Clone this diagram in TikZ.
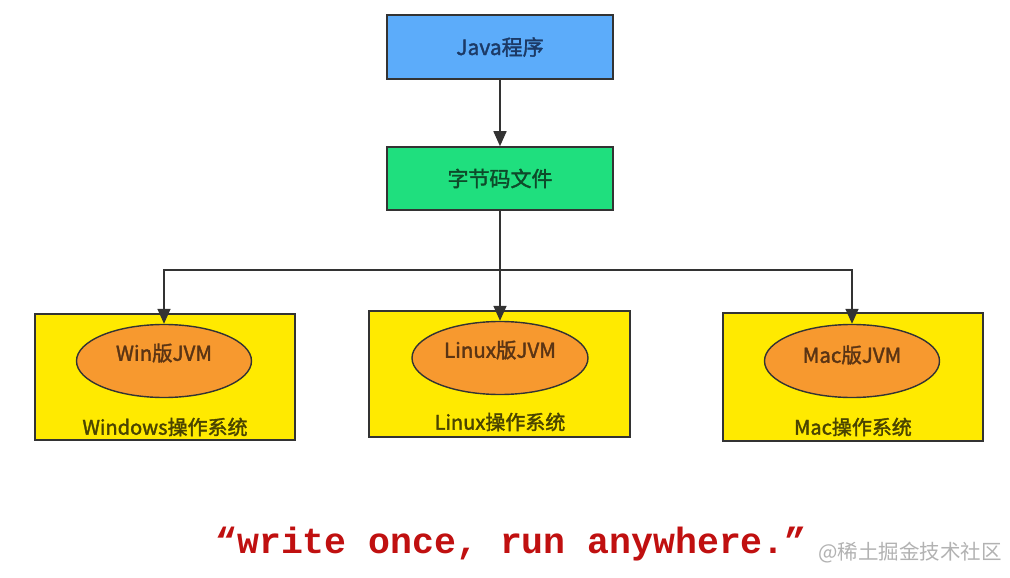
\documentclass[tikz,border=0pt]{standalone}
\usepackage{fontspec}
\usetikzlibrary{arrows.meta,shapes.geometric}
\newfontfamily\cjkb[FakeBold=1.8]{Noto Sans CJK SC}
\newfontfamily\cjkl{Noto Sans CJK SC}
\newfontfamily\slogfont{Liberation Mono}
\definecolor{boxblue}{HTML}{5CACFA}
\definecolor{boxgreen}{HTML}{1FDF7E}
\definecolor{osyellow}{HTML}{FFEA00}
\definecolor{jvmorange}{HTML}{F7992F}
\definecolor{edge}{HTML}{333333}
\definecolor{slogred}{HTML}{C01010}
\definecolor{javatext}{HTML}{1C3A66}
\definecolor{bytetext}{HTML}{0E4A2A}
\definecolor{jvmtextc}{HTML}{5A3414}
\definecolor{ostextc}{HTML}{4A4400}
\tikzset{
  stepbox/.style={draw=edge, line width=1.6pt, minimum width=226pt, minimum height=64pt, inner sep=0pt, font=\cjkb\fontsize{21}{24}\selectfont},
  osbox/.style={draw=edge, line width=1.6pt, fill=osyellow, minimum width=260pt, minimum height=126pt, inner sep=0pt},
  jvm/.style={ellipse, draw=edge, line width=1.4pt, fill=jvmorange, minimum width=175pt, minimum height=73pt, inner sep=0pt},
  jvmtext/.style={font=\cjkb\fontsize{20.5}{23}\selectfont, text=jvmtextc},
  ostext/.style={font=\cjkb\fontsize{20}{23}\selectfont, text=ostextc},
  arr/.style={draw=edge, line width=1.6pt, -{Triangle[width=13pt,length=15pt]}},
}
\begin{document}
\begin{tikzpicture}[x=1pt,y=-1pt]
\useasboundingbox (0,0) rectangle (1010,578);
\fill[white] (0,0) rectangle (1010,578);

\node[stepbox, fill=boxblue, text=javatext] (java) at (500,47) {Java程序};
\node[stepbox, fill=boxgreen, minimum height=63pt, text=bytetext] (byte) at (500,178.5) {字节码文件};

\node[osbox] (winos) at (165,377) {};
\node[osbox, minimum width=261pt] (linuxos) at (499.5,374) {};
\node[osbox, minimum height=128pt] (macos) at (853,377) {};

\node[jvm] (winjvm) at (164,361) {};
\node[jvm, minimum width=176pt] (linuxjvm) at (500,358) {};
\node[jvm] (macjvm) at (852,361) {};

\node[jvmtext] (winjvmt) at (164,353) {Win版JVM};
\node[jvmtext] (linuxjvmt) at (500,350) {Linux版JVM};
\node[jvmtext] (macjvmt) at (852,355) {Mac版JVM};

\node[ostext] (winost) at (165,427) {Windows操作系统};
\node[ostext] (linuxost) at (500,422) {Linux操作系统};
\node[ostext] (macost) at (853,427) {Mac操作系统};

\coordinate (split) at (500,270);
\draw[arr] (java) -- (byte);
\draw[arr] (byte.south) -- (split) -| (winjvm.north);
\draw[arr] (byte) -- (linuxjvm.north);
\draw[arr] (byte.south) -- (split) -| (macjvm.north);

\node[anchor=base, text=slogred, font=\slogfont\bfseries\fontsize{36.5}{40}\selectfont] (slogan) at (511,553) {“write once, run anywhere.”};
\node[anchor=base west, text=black!30, font=\cjkl\fontsize{20.5}{23}\selectfont, inner sep=0pt] (mark) at (818,559) {@稀土掘金技术社区};
\end{tikzpicture}
\end{document}
